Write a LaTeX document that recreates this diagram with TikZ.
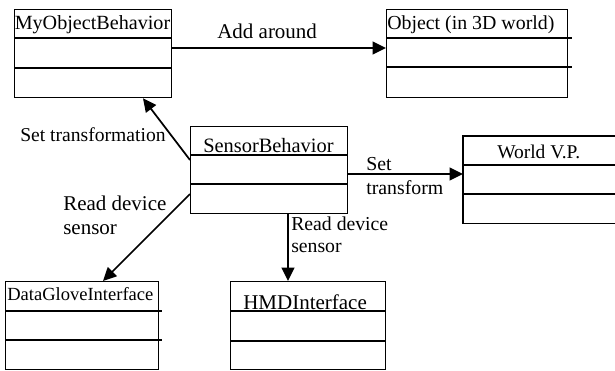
\documentclass[tikz,border=0pt]{standalone}
\usepackage{fontspec}
\setmainfont{Liberation Serif}
\usetikzlibrary{arrows.meta}
\begin{document}
\begin{tikzpicture}[x=0.75pt,y=-0.75pt,
  cls/.style={draw, line width=1pt, rectangle, inner sep=0pt, anchor=north west},
  ghost/.style={rectangle, inner sep=0pt, anchor=north west},
  divline/.style={line width=1pt},
  ttl/.style={anchor=base west, inner sep=0pt},
  lbl/.style={anchor=base west, inner sep=0pt},
  arr/.style={line width=1.3pt, -{Triangle[length=10pt,width=9.5pt]}}]
\useasboundingbox (0,0) rectangle (615,371);

% class boxes
\node[cls, minimum width=117.75pt, minimum height=66pt] (mob) at (14,9) {};
\node[cls, minimum width=135.75pt, minimum height=66pt] (obj) at (386,9) {};
\node[cls, minimum width=117.75pt, minimum height=65.25pt] (sen) at (190,126) {};
\node[ghost, minimum width=114pt, minimum height=65.25pt] (wvp) at (463,136) {};
\node[cls, minimum width=114.75pt, minimum height=66pt] (dgi) at (5,281) {};
\node[cls, minimum width=116.25pt, minimum height=66pt] (hmd) at (230,281) {};

% World V.P. box (open to the right)
\draw[divline] (wvp.north east) -- (wvp.north west) -- (wvp.south west) -- (wvp.south east);

% dividers
\draw[divline] (mob.west |- 0,38) -- (mob.east |- 0,38);
\draw[divline] (mob.west |- 0,68) -- (mob.east |- 0,68);
\draw[divline] (obj.west |- 0,38) -- (572,38);
\draw[divline] (obj.west |- 0,67) -- (572,67);
\draw[divline] (sen.west |- 0,155) -- (sen.east |- 0,155);
\draw[divline] (sen.west |- 0,184) -- (sen.east |- 0,184);
\draw[divline] (wvp.west |- 0,165) -- (wvp.east |- 0,165);
\draw[divline] (wvp.west |- 0,194) -- (wvp.east |- 0,194);
\draw[divline] (dgi.west |- 0,311) -- (162,311);
\draw[divline] (dgi.west |- 0,340) -- (162,340);
\draw[divline] (hmd.west |- 0,311) -- (hmd.east |- 0,311);
\draw[divline] (hmd.west |- 0,341) -- (hmd.east |- 0,341);

% titles
\node[ttl, font=\fontsize{15.1}{18}\selectfont] (tmob) at (14.5,30) {MyObjectBehavior};
\node[ttl, font=\fontsize{14.9}{18}\selectfont] (tobj) at (387,30) {Object (in 3D world)};
\node[ttl, font=\fontsize{15.3}{18}\selectfont] (tsen) at (203,152) {SensorBehavior};
\node[ttl, font=\fontsize{14.6}{18}\selectfont] (twvp) at (497,158) {World V.P.};
\node[ttl, font=\fontsize{13.9}{17}\selectfont] (tdgi) at (7,300) {DataGloveInterface};
\node[ttl, font=\fontsize{15.75}{18}\selectfont] (thmd) at (243,309) {HMDInterface};

% connectors
\draw[arr] (mob.east |- 0,48) -- (obj.west |- 0,48);
\draw[arr] (sen.west |- 0,160) -- (mob.south -| 143,0);
\draw[arr] (sen.east |- 0,174) -- (wvp.west |- 0,174);
\draw[arr] (sen.west |- 0,194) -- (dgi.north -| 103,0);
\draw[arr] (sen.south -| 288,0) -- (hmd.north -| 288,0);

% labels
\node[lbl, font=\fontsize{15.75}{18}\selectfont] (ladd) at (217,38) {Add around};
\node[lbl, font=\fontsize{14.7}{18}\selectfont] (lset) at (20,141) {Set transformation};
\node[lbl, font=\fontsize{15.75}{18}\selectfont] (lrd1) at (63,210) {Read device};
\node[lbl, font=\fontsize{15.75}{18}\selectfont] (lrd2) at (63,234) {sensor};
\node[lbl, font=\fontsize{14.85}{18}\selectfont] (lst1) at (366,170) {Set};
\node[lbl, font=\fontsize{14.85}{18}\selectfont] (lst2) at (366,194) {transform};
\node[lbl, font=\fontsize{14.8}{18}\selectfont] (lrr1) at (291,230) {Read device};
\node[lbl, font=\fontsize{14.8}{18}\selectfont] (lrr2) at (291,252) {sensor};
\end{tikzpicture}
\end{document}
